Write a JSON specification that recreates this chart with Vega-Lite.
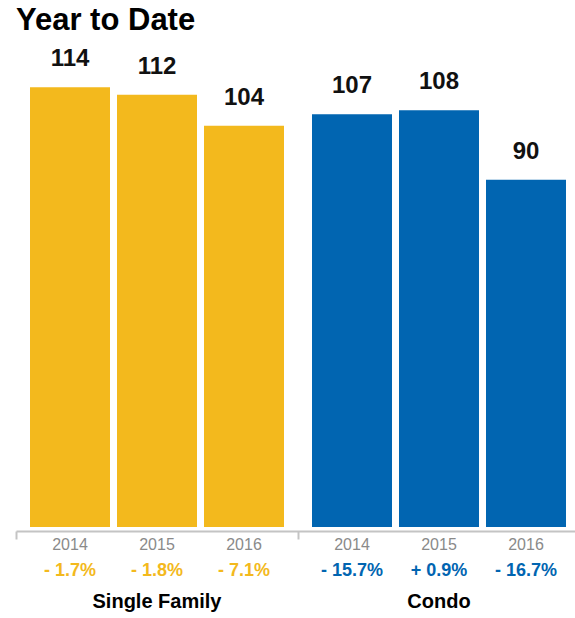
{
  "$schema": "https://vega.github.io/schema/vega-lite/v6.json",
  "autosize": "none",
  "width": 559,
  "height": 463,
  "padding": {"left": 16, "right": 0, "top": 64, "bottom": 91},
  "background": "white",
  "config": {"view": {"stroke": null}, "font": "Liberation Sans"},
  "title": {
    "text": "Year to Date",
    "anchor": "start",
    "font": "Liberation Sans",
    "fontSize": 31,
    "fontWeight": "bold",
    "color": "#000000",
    "offset": 10,
    "dx": 1
  },
  "data": {
    "values": [
      {"group": "Single Family", "year": "2014", "value": 114, "change": "- 1.7%"},
      {"group": "Single Family", "year": "2015", "value": 112, "change": "- 1.8%"},
      {"group": "Single Family", "year": "2016", "value": 104, "change": "- 7.1%"},
      {"group": "Condo", "year": "2014", "value": 107, "change": "- 15.7%"},
      {"group": "Condo", "year": "2015", "value": 108, "change": "+ 0.9%"},
      {"group": "Condo", "year": "2016", "value": 90, "change": "- 16.7%"}
    ]
  },
  "encoding": {
    "x": {
      "field": "group",
      "type": "nominal",
      "sort": ["Single Family", "Condo"],
      "scale": {"range": [0, 564], "paddingInner": 0, "paddingOuter": 0},
      "axis": null
    },
    "xOffset": {
      "field": "year",
      "type": "nominal",
      "scale": {"paddingInner": 0.0805, "paddingOuter": 0.161}
    }
  },
  "layer": [
    {
      "mark": {"type": "bar"},
      "encoding": {
        "x": {
          "field": "group",
          "type": "nominal",
          "sort": ["Single Family", "Condo"],
          "axis": {
            "orient": "bottom",
            "title": null,
            "labels": false,
            "bandPosition": 0,
            "domainColor": "#c4c4c4",
            "domainWidth": 2,
            "tickColor": "#c4c4c4",
            "tickWidth": 2,
            "tickSize": 8,
            "offset": 4
          }
        },
        "y": {
          "field": "value",
          "type": "quantitative",
          "scale": {"domain": [0, 120], "nice": false, "zero": true},
          "axis": null
        },
        "color": {
          "field": "group",
          "type": "nominal",
          "scale": {"domain": ["Single Family", "Condo"], "range": ["#F3B91D", "#0165B1"]},
          "legend": null
        }
      }
    },
    {
      "mark": {"type": "text", "baseline": "alphabetic", "dy": -21, "fontSize": 24, "fontWeight": "bold", "color": "#111111"},
      "encoding": {
        "x": {
          "field": "group",
          "type": "nominal",
          "sort": ["Single Family", "Condo"],
          "axis": {
            "orient": "bottom",
            "title": null,
            "domain": false,
            "ticks": false,
            "tickSize": 0,
            "labelPadding": 80,
            "labelBaseline": "alphabetic",
            "labelFontSize": 20,
            "labelFontWeight": "bold",
            "labelColor": "#000000",
            "labelFont": "Liberation Sans",
            "labelAngle": 0
          }
        },
        "y": {"field": "value", "type": "quantitative"},
        "text": {"field": "value", "type": "quantitative"}
      }
    },
    {
      "mark": {"type": "text", "baseline": "alphabetic", "dy": 23, "fontSize": 16, "color": "#8a8a8a"},
      "encoding": {
        "y": {"datum": 0, "type": "quantitative"},
        "text": {"field": "year", "type": "nominal"}
      }
    },
    {
      "mark": {"type": "text", "baseline": "alphabetic", "dy": 49, "fontSize": 18, "fontWeight": "bold"},
      "encoding": {
        "y": {"datum": 0, "type": "quantitative"},
        "text": {"field": "change", "type": "nominal"},
        "color": {"field": "group", "type": "nominal", "legend": null}
      }
    }
  ],
  "resolve": {"axis": {"x": "independent"}}
}
